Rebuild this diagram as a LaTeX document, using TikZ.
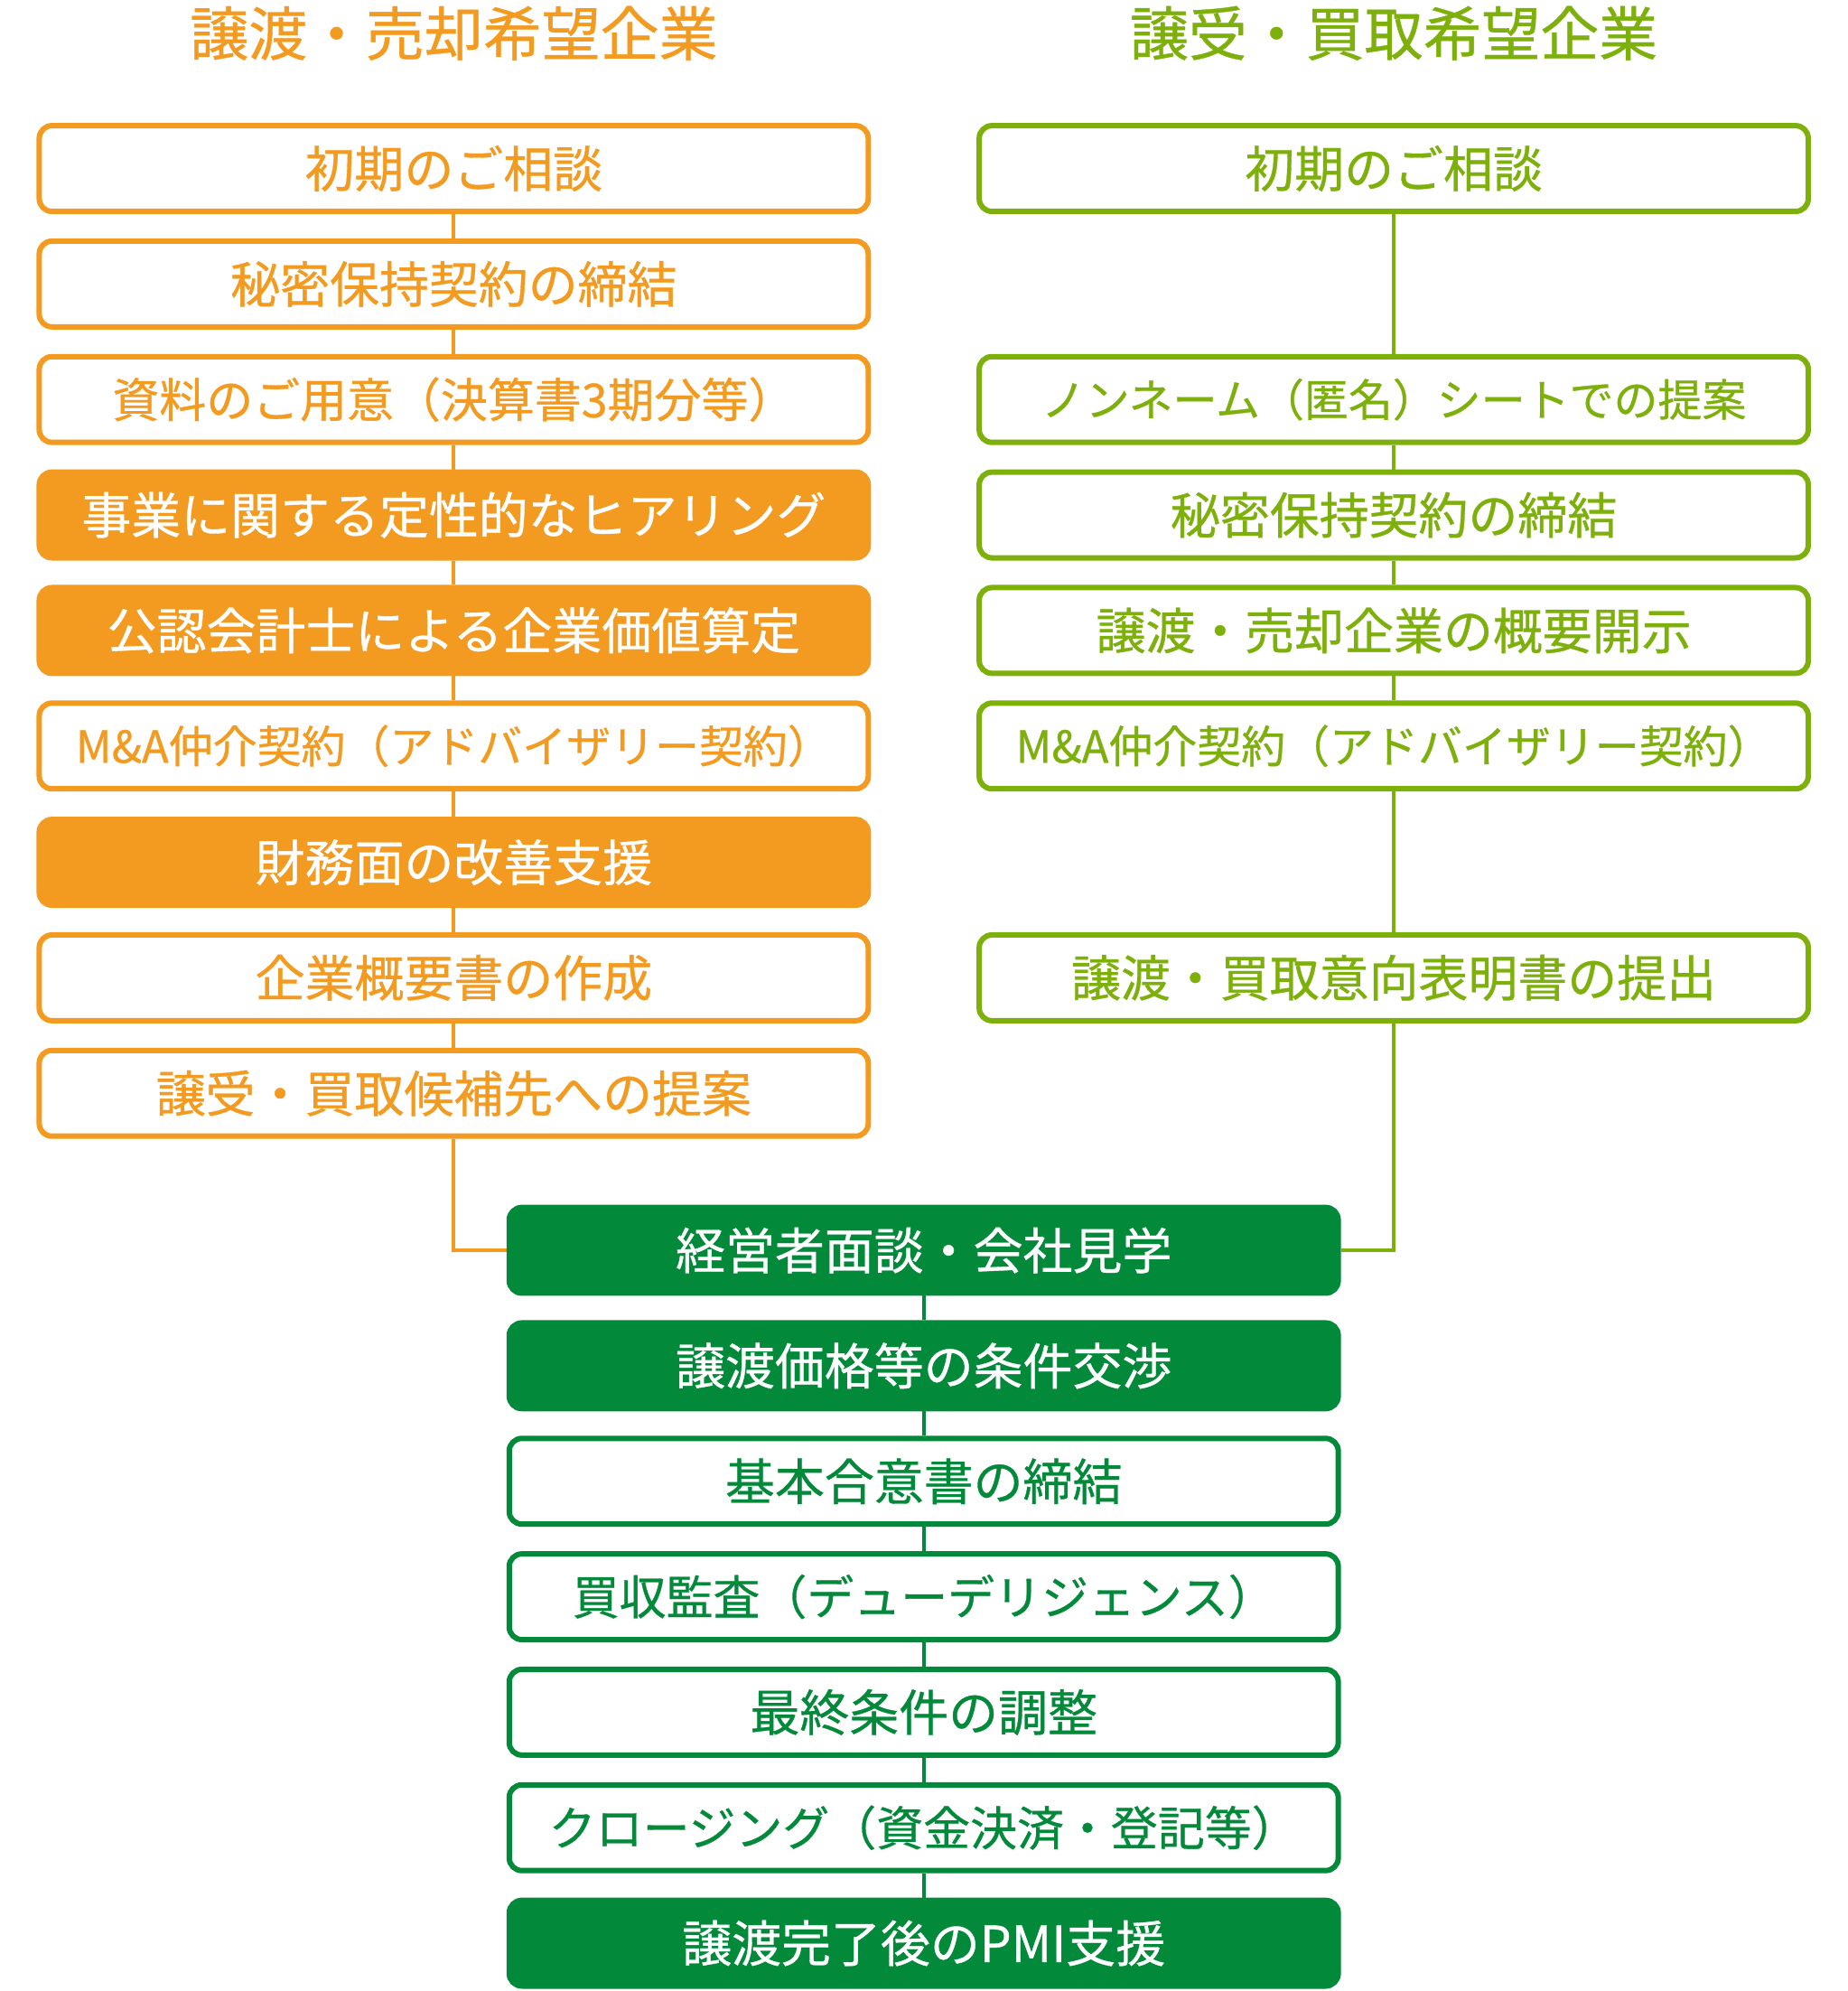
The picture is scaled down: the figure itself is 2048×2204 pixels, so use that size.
\documentclass[tikz,border=0pt]{standalone}
\usepackage{fontspec}
\usetikzlibrary{backgrounds}
\newfontfamily\jp{Noto Sans CJK JP}[FakeBold=0.6]
\definecolor{org}{HTML}{F39A21}
\definecolor{lgr}{HTML}{7DB00A}
\definecolor{dgr}{HTML}{03893A}
\begin{document}
\begin{tikzpicture}[x=0.5pt,y=-0.5pt,
  box/.style={rounded corners=7pt, minimum width=459.5pt, minimum height=47.5pt, line width=3pt, inner sep=0pt, font=\jp\fontsize{27.5pt}{30pt}\selectfont},
  ob/.style={box, draw=org, fill=white, text=org},
  of/.style={box, draw=org, fill=org, text=white},
  gb/.style={box, draw=lgr, fill=white, text=lgr},
  db/.style={box, draw=dgr, fill=white, text=dgr},
  df/.style={box, draw=dgr, fill=dgr, text=white},
  sm/.style={font=\jp\fontsize{24.5pt}{27pt}\selectfont},
  md/.style={font=\jp\fontsize{26pt}{28pt}\selectfont},
  head/.style={font=\jp\fontsize{32.5pt}{36pt}\selectfont},
  conn/.style={line width=2pt}]
% headings
\node[head, text=org] (hl) at (503,34) {譲渡・売却希望企業};
\node[head, text=lgr] (hr) at (1545,34) {譲受・買取希望企業};
% left column
\node[ob] (l0) at (503,184) {初期のご相談};
\node[ob] (l1) at (503,312) {秘密保持契約の締結};
\node[ob,md] (l2) at (503,440) {資料のご用意（決算書3期分等）};
\node[of] (l3) at (503,568) {事業に関する定性的なヒアリング};
\node[of] (l4) at (503,696) {公認会計士による企業価値算定};
\node[ob,sm] (l5) at (503,824) {M\&A仲介契約（アドバイザリー契約）};
\node[of] (l6) at (503,953) {財務面の改善支援};
\node[ob] (l7) at (503,1081) {企業概要書の作成};
\node[ob] (l8) at (503,1209) {譲受・買取候補先への提案};
% right column
\node[gb] (r0) at (1545,184) {初期のご相談};
\node[gb,sm] (r2) at (1545,440) {ノンネーム（匿名）シートでの提案};
\node[gb] (r3) at (1545,568) {秘密保持契約の締結};
\node[gb] (r4) at (1545,696) {譲渡・売却企業の概要開示};
\node[gb,sm] (r5) at (1545,824) {M\&A仲介契約（アドバイザリー契約）};
\node[gb] (r7) at (1545,1081) {譲渡・買取意向表明書の提出};
% center column
\node[df] (c0) at (1024,1383) {経営者面談・会社見学};
\node[df] (c1) at (1024,1511) {譲渡価格等の条件交渉};
\node[db] (c2) at (1024,1639) {基本合意書の締結};
\node[db,md] (c3) at (1024,1767) {買収監査（デューデリジェンス）};
\node[db] (c4) at (1024,1895) {最終条件の調整};
\node[db,md] (c5) at (1024,2023) {クロージング（資金決済・登記等）};
\node[df] (c6) at (1024,2151) {譲渡完了後のPMI支援};
\begin{scope}[on background layer]
  \fill[white] (0,0) rectangle (2048,2204);
  \draw[conn, org] (l0) -- (l1) (l1) -- (l2) (l2) -- (l3) (l3) -- (l4) (l4) -- (l5) (l5) -- (l6) (l6) -- (l7) (l7) -- (l8);
  \draw[conn, org] (l8.south) |- (c0.west);
  \draw[conn, lgr] (r0) -- (r2) (r2) -- (r3) (r3) -- (r4) (r4) -- (r5) (r5) -- (r7);
  \draw[conn, lgr] (r7.south) |- (c0.east);
  \draw[conn, dgr] (c0) -- (c1) (c1) -- (c2) (c2) -- (c3) (c3) -- (c4) (c4) -- (c5) (c5) -- (c6);
\end{scope}
\end{tikzpicture}
\end{document}
